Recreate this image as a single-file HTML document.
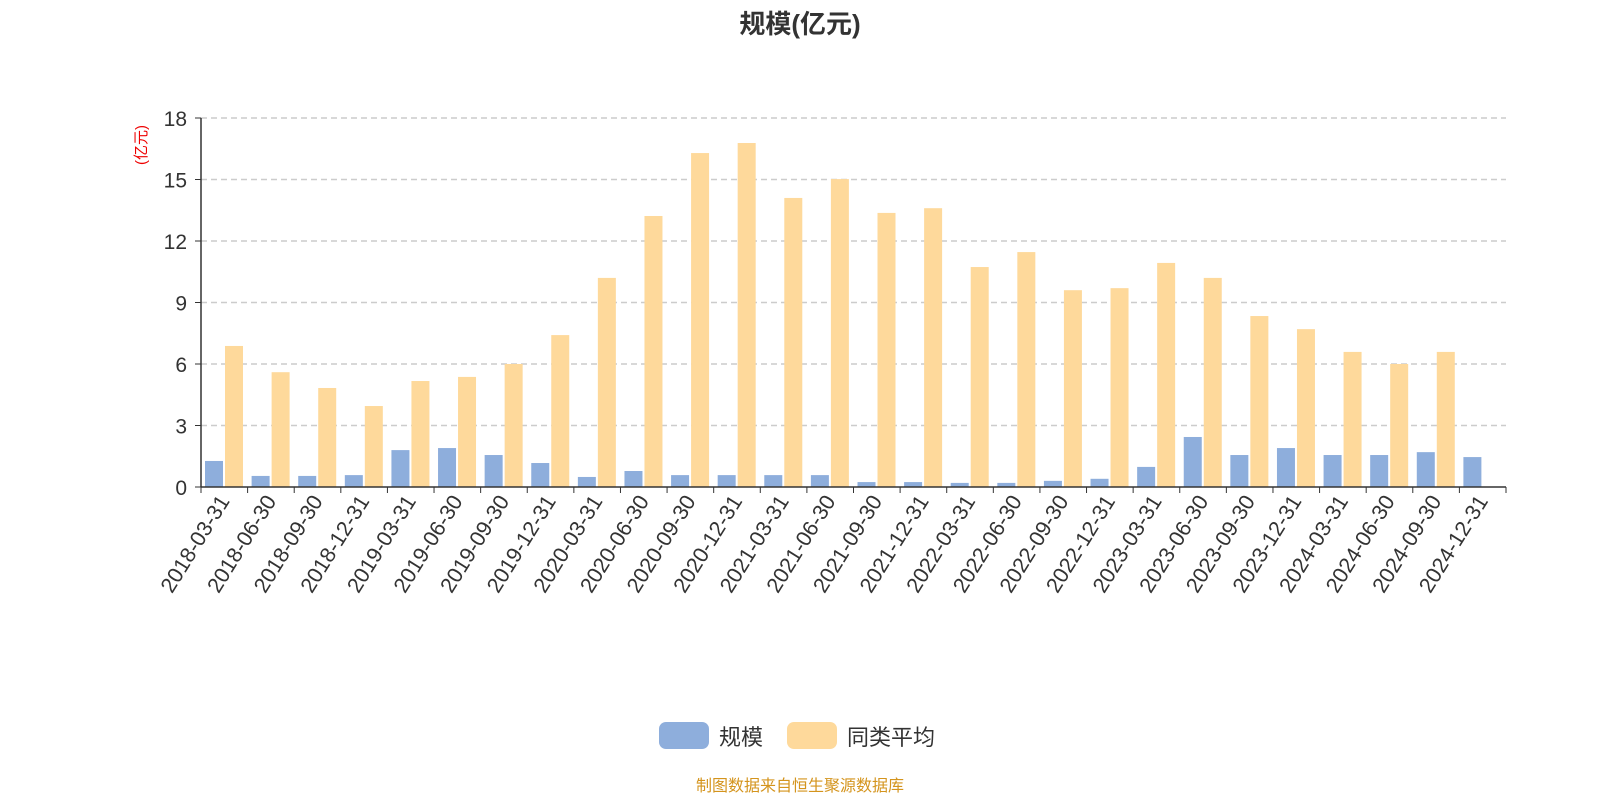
<!DOCTYPE html>
<html><head><meta charset="utf-8">
<style>
body{margin:0;background:#fff;width:1600px;height:800px;overflow:hidden;font-family:"Liberation Sans","Noto Sans CJK SC",sans-serif;}
svg text{font-family:"Liberation Sans","Noto Sans CJK SC",sans-serif;}
</style></head>
<body>
<svg id="chart" width="1600" height="800">
<text x="800" y="33" text-anchor="middle" font-size="26" font-weight="bold" fill="#333">规模(亿元)</text>
<text transform="translate(146,145) rotate(-90)" text-anchor="middle" font-size="15" fill="#e00">(亿元)</text>
<g id="grid"></g><g id="bars"></g><g id="axes"></g>
<g>
<rect x="659" y="722" width="50" height="27" rx="7" fill="#8eaedc"/>
<text x="719" y="745" font-size="22" fill="#333">规模</text>
<rect x="787" y="722" width="50" height="27" rx="7" fill="#fed99b"/>
<text x="847" y="745" font-size="22" fill="#333">同类平均</text>
</g>
<text x="800" y="791" text-anchor="middle" font-size="16" fill="#d4941d">制图数据来自恒生聚源数据库</text>
</svg>
<script>
const categories=["2018-03-31","2018-06-30","2018-09-30","2018-12-31","2019-03-31","2019-06-30","2019-09-30","2019-12-31","2020-03-31","2020-06-30","2020-09-30","2020-12-31","2021-03-31","2021-06-30","2021-09-30","2021-12-31","2022-03-31","2022-06-30","2022-09-30","2022-12-31","2023-03-31","2023-06-30","2023-09-30","2023-12-31","2024-03-31","2024-06-30","2024-09-30","2024-12-31"];
const scaleValues=[1.27,0.54,0.54,0.58,1.8,1.9,1.56,1.17,0.49,0.78,0.58,0.58,0.58,0.58,0.24,0.24,0.2,0.2,0.3,0.4,0.98,2.44,1.56,1.9,1.56,1.56,1.7,1.46];
const avgValues=[6.88,5.6,4.83,3.95,5.17,5.37,6.0,7.41,10.2,13.22,16.29,16.78,14.1,15.02,13.37,13.6,10.73,11.46,9.6,9.7,10.93,10.2,8.34,7.7,6.59,6.0,6.59,null];
const yTicks=[0,3,6,9,12,15,18];
const NS="http://www.w3.org/2000/svg";
const X0=201,X1=1506,Y0=487,Y1=118,YMAX=18;
const band=(X1-X0)/categories.length;
const yScale=v=>Y0-(v/YMAX)*(Y0-Y1);
const xBand=i=>X0+i*band;
function mk(tag,attrs,parent){const e=document.createElementNS(NS,tag);for(const k in attrs)e.setAttribute(k,attrs[k]);parent.appendChild(e);return e;}
const grid=document.getElementById('grid'),bars=document.getElementById('bars'),axes=document.getElementById('axes');
yTicks.forEach(t=>{
  const y=yScale(t);
  if(t>0){const l=mk('line',{x1:X0,x2:X1,y1:y,y2:y,stroke:'#ccc','stroke-dasharray':'6,4','stroke-width':1.5},grid);
  
  }
  mk('line',{x1:X0-6,x2:X0,y1:y,y2:y,stroke:'#333'},axes);
  const tx=mk('text',{x:X0-14,y:y+8,'text-anchor':'end','font-size':21,fill:'#333'},axes);
  tx.textContent=t;
  
  
});
categories.forEach((c,i)=>{
  const bx=xBand(i);
  if(scaleValues[i]!=null){const r=mk('rect',{x:bx+4,y:yScale(scaleValues[i]),width:18,height:Y0-yScale(scaleValues[i]),fill:'#8eaedc'},bars);
  
  }
  if(avgValues[i]!=null){const r=mk('rect',{x:bx+24,y:yScale(avgValues[i]),width:18,height:Y0-yScale(avgValues[i]),fill:'#fed99b'},bars);
  
  }
  mk('line',{x1:bx,x2:bx,y1:Y0,y2:Y0+6,stroke:'#333'},axes);
  const lx=bx+band/2+6,ly=Y0+14;
  const t=mk('text',{x:lx,y:ly,'text-anchor':'end','font-size':21.5,fill:'#333',transform:`rotate(-58 ${lx} ${ly})`},axes);
  t.textContent=c;
  
  
});
mk('line',{x1:X1,x2:X1,y1:Y0,y2:Y0+6,stroke:'#333'},axes);
const ya=mk('line',{x1:X0,x2:X0,y1:Y1,y2:Y0,stroke:'#333','stroke-width':1.5},axes);


const xa=mk('line',{x1:X0,x2:X1,y1:Y0,y2:Y0,stroke:'#333','stroke-width':1.5},axes);


</script>
</body></html>
